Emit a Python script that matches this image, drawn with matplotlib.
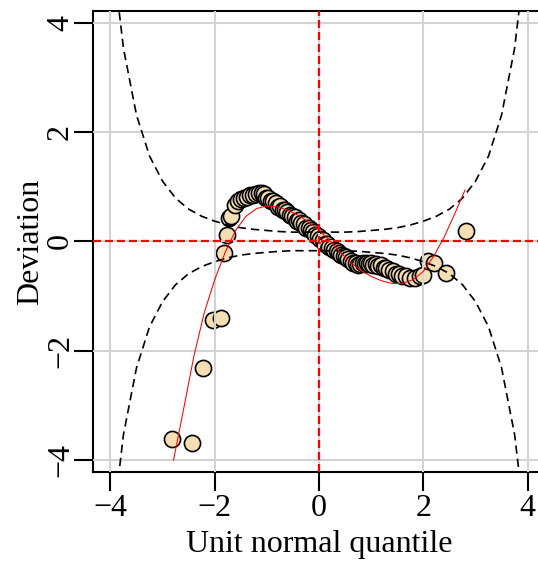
import matplotlib
matplotlib.use("Agg")
import matplotlib.pyplot as plt

plt.rcParams['font.family'] = ['Liberation Serif', 'DejaVu Serif']

# ---- data ----
worm_x = [-2.81, -2.43, -2.23, -2.04, -1.88, -1.83, -1.77, -1.72, -1.68, -1.62, -1.56,
          -1.50, -1.44, -1.38, -1.32, -1.26, -1.20, -1.15,
          -1.10, -1.06, -1.01, -0.97, -0.92, -0.88, -0.83, -0.79, -0.74, -0.70, -0.65,
          -0.61, -0.56, -0.52, -0.47, -0.43, -0.38, -0.34, -0.29, -0.25, -0.20, -0.16,
          -0.11, -0.07, -0.02, 0.02, 0.07, 0.11, 0.16, 0.20, 0.25, 0.29, 0.34, 0.38,
          0.43, 0.47, 0.52, 0.56, 0.61, 0.65, 0.70, 0.74,
          0.79, 0.84, 0.88, 0.92, 0.96, 1.00, 1.04, 1.09, 1.14, 1.19, 1.24, 1.29, 1.35,
          1.41, 1.47, 1.53, 1.60, 1.67, 1.75, 1.84, 1.94, 2.00, 2.08, 2.20, 2.43, 2.81]
worm_y = [-3.61, -3.69, -2.32, -1.44, -1.40, -0.21, 0.12, 0.42, 0.47, 0.66, 0.74,
          0.78, 0.80, 0.82, 0.84, 0.85, 0.87, 0.89,
          0.89, 0.86, 0.80, 0.80, 0.74, 0.73, 0.70, 0.63, 0.65, 0.58, 0.57,
          0.53, 0.48, 0.47, 0.44, 0.38, 0.39, 0.33, 0.31, 0.25, 0.25, 0.20,
          0.17, 0.12, 0.10, 0.04, 0.02, -0.04, -0.05, -0.11, -0.12, -0.16, -0.18, -0.22,
          -0.24, -0.27, -0.29, -0.32, -0.35, -0.39, -0.40, -0.44,
          -0.42, -0.40, -0.41, -0.39, -0.41, -0.40, -0.43, -0.42, -0.45, -0.43, -0.48, -0.49, -0.53,
          -0.54, -0.59, -0.59, -0.63, -0.63, -0.67, -0.66, -0.64, -0.61, -0.35, -0.40, -0.58, 0.19]

fit_x = [-2.79, -2.6, -2.4, -2.2, -2.0, -1.8, -1.6, -1.4, -1.2, -1.0, -0.8, -0.6, -0.4,
         -0.2, 0.0, 0.2, 0.4, 0.6, 0.8, 1.0, 1.2, 1.4, 1.6, 1.8, 2.0, 2.2, 2.4, 2.6, 2.8]
fit_y = [-4.00, -3.08, -2.10, -1.30, -0.70, -0.20, 0.20, 0.46, 0.60, 0.65, 0.63, 0.57, 0.48,
         0.35, 0.21, 0.02, -0.19, -0.38, -0.53, -0.64, -0.72, -0.77, -0.77, -0.70, -0.55,
         -0.27, 0.08, 0.50, 0.94]

band_z = [-4.0, -3.75, -3.5, -3.25, -3.0, -2.75, -2.5, -2.25, -2.0, -1.75, -1.5, -1.25,
          -1.0, -0.75, -0.5, -0.25, 0.0, 0.25, 0.5, 0.75, 1.0, 1.25, 1.5, 1.75, 2.0,
          2.25, 2.5, 2.75, 3.0, 3.25, 3.5, 3.75, 4.0]
band_hi = [5.56, 3.53, 2.31, 1.56, 1.10, 0.79, 0.59, 0.46, 0.37, 0.30, 0.25, 0.22,
           0.20, 0.18, 0.17, 0.17, 0.17, 0.17, 0.17, 0.18, 0.20, 0.22, 0.25, 0.30, 0.37,
           0.46, 0.59, 0.79, 1.10, 1.56, 2.31, 3.53, 5.56]
band_lo = [-v for v in band_hi]

ticks = [-4, -2, 0, 2, 4]
tick_labels = ['\u22124', '\u22122', '0', '2', '4']

# ---- figure ----
W, H = 538, 563
fig = plt.figure(figsize=(W / 100, H / 100), dpi=100)
x0, x1 = -4.34, 4.34
y0, y1 = -4.21, 4.21
ax_left, ax_bottom = 92.7, 471.7
ax_w = (x1 - x0) * 52.15
ax_h = (y1 - y0) * 54.7
ax = fig.add_axes([ax_left / W, (H - ax_bottom) / H, ax_w / W, ax_h / H])
ax.set_xlim(x0, x1)
ax.set_ylim(y0, y1)

# points
ax.scatter(worm_x, worm_y, s=135, facecolor='#F5DEB3', edgecolor='black',
           linewidth=1.2, zorder=2, clip_on=True)

# grid drawn over the points
for t in ticks:
    ax.axvline(t, color='#D3D3D3', lw=1.5, zorder=3)
    ax.axhline(t, color='#D3D3D3', lw=1.5, zorder=3)

# zero lines
ax.axhline(0, color='red', lw=1.6, dashes=(3.6, 1.8), zorder=4)
ax.axvline(0, color='red', lw=1.6, dashes=(3.6, 1.8), zorder=4)

# confidence bands
ax.plot(band_z, band_hi, color='black', lw=1.2, dashes=(5, 3), zorder=5)
ax.plot(band_z, band_lo, color='black', lw=1.2, dashes=(5, 3), zorder=5)

# fitted curve
ax.plot(fit_x, fit_y, color='red', lw=0.75, zorder=6)

ax.set_xticks(ticks)
ax.set_xticklabels(tick_labels)
ax.set_yticks(ticks)
ax.set_yticklabels(tick_labels, rotation=90, va='center')

for s in ax.spines.values():
    s.set_linewidth(1.5)
ax.tick_params(axis='both', direction='out', length=13.7, width=1.5, labelsize=23)
ax.tick_params(axis='x', pad=2)
ax.tick_params(axis='y', pad=-1)

ax.set_xlabel('Unit normal quantile', fontsize=23)
ax.xaxis.label.set_va('baseline')
ax.xaxis.set_label_coords(0.5, (ax_bottom - 552) / ax_h)
ax.set_ylabel('Deviation', fontsize=23)
ax.yaxis.label.set_va('baseline')
ax.yaxis.set_label_coords((38 - ax_left) / ax_w, 0.5)

fig.savefig('out.png', dpi=100)
